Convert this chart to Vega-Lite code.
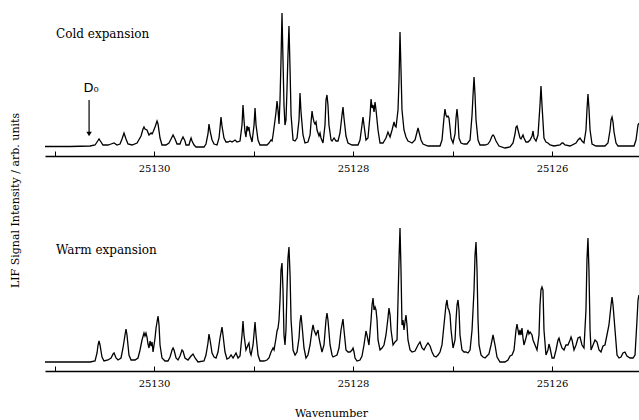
{
"$schema": "https://vega.github.io/schema/vega-lite/v6.json",
"padding": {"left": 9, "top": 10, "right": 0, "bottom": 0},
"bounds": "flush",
"spacing": 69,
"config": {
  "view": {"stroke": null},
  "axis": {"labelFont": "DejaVu Serif", "titleFont": "DejaVu Serif", "labelColor": "black", "titleColor": "black", "domainColor": "black", "tickColor": "black", "titleFontWeight": "normal", "grid": false}
},
"datasets": {
"cold": [{"w":25131.096,"i":9.5},{"w":25130.844,"i":9.5},{"w":25130.643,"i":10},{"w":25130.593,"i":11},{"w":25130.573,"i":14},{"w":25130.553,"i":17},{"w":25130.533,"i":14},{"w":25130.513,"i":11},{"w":25130.463,"i":11},{"w":25130.432,"i":12},{"w":25130.402,"i":13},{"w":25130.372,"i":11},{"w":25130.342,"i":12},{"w":25130.322,"i":17},{"w":25130.302,"i":23},{"w":25130.282,"i":17},{"w":25130.262,"i":12},{"w":25130.221,"i":11},{"w":25130.171,"i":13},{"w":25130.131,"i":20},{"w":25130.111,"i":27},{"w":25130.101,"i":29},{"w":25130.091,"i":27},{"w":25130.071,"i":26},{"w":25130.051,"i":21},{"w":25130.030,"i":23},{"w":25130.020,"i":22},{"w":25130.010,"i":24},{"w":25129.990,"i":29},{"w":25129.980,"i":32},{"w":25129.970,"i":35},{"w":25129.960,"i":32},{"w":25129.940,"i":18},{"w":25129.920,"i":11},{"w":25129.880,"i":11},{"w":25129.850,"i":13},{"w":25129.829,"i":17},{"w":25129.809,"i":21},{"w":25129.789,"i":17},{"w":25129.769,"i":12},{"w":25129.739,"i":12},{"w":25129.729,"i":15},{"w":25129.709,"i":19},{"w":25129.689,"i":15},{"w":25129.679,"i":11},{"w":25129.649,"i":11},{"w":25129.638,"i":15},{"w":25129.628,"i":18},{"w":25129.618,"i":15},{"w":25129.598,"i":11},{"w":25129.578,"i":9},{"w":25129.498,"i":9},{"w":25129.478,"i":12},{"w":25129.458,"i":22},{"w":25129.448,"i":32},{"w":25129.437,"i":25},{"w":25129.417,"i":16},{"w":25129.397,"i":12},{"w":25129.367,"i":11},{"w":25129.347,"i":18},{"w":25129.337,"i":28},{"w":25129.327,"i":39},{"w":25129.317,"i":30},{"w":25129.297,"i":18},{"w":25129.277,"i":14},{"w":25129.257,"i":14},{"w":25129.236,"i":15},{"w":25129.216,"i":14},{"w":25129.186,"i":16},{"w":25129.166,"i":14},{"w":25129.136,"i":15},{"w":25129.116,"i":31},{"w":25129.106,"i":51},{"w":25129.096,"i":36},{"w":25129.086,"i":24},{"w":25129.076,"i":19},{"w":25129.066,"i":30},{"w":25129.056,"i":26},{"w":25129.046,"i":29},{"w":25129.035,"i":21},{"w":25129.015,"i":14},{"w":25128.995,"i":31},{"w":25128.985,"i":48},{"w":25128.975,"i":31},{"w":25128.955,"i":16},{"w":25128.935,"i":11},{"w":25128.895,"i":11},{"w":25128.865,"i":11},{"w":25128.845,"i":13},{"w":25128.824,"i":16},{"w":25128.814,"i":15},{"w":25128.804,"i":21},{"w":25128.784,"i":36},{"w":25128.774,"i":44},{"w":25128.764,"i":55},{"w":25128.754,"i":46},{"w":25128.744,"i":32},{"w":25128.734,"i":56},{"w":25128.724,"i":96},{"w":25128.714,"i":143},{"w":25128.704,"i":96},{"w":25128.694,"i":51},{"w":25128.684,"i":31},{"w":25128.674,"i":36},{"w":25128.664,"i":66},{"w":25128.654,"i":101},{"w":25128.644,"i":130},{"w":25128.633,"i":86},{"w":25128.623,"i":41},{"w":25128.603,"i":16},{"w":25128.583,"i":15},{"w":25128.563,"i":18},{"w":25128.543,"i":36},{"w":25128.533,"i":63},{"w":25128.523,"i":44},{"w":25128.503,"i":21},{"w":25128.483,"i":13},{"w":25128.453,"i":14},{"w":25128.432,"i":21},{"w":25128.422,"i":34},{"w":25128.412,"i":45},{"w":25128.402,"i":38},{"w":25128.392,"i":34},{"w":25128.382,"i":32},{"w":25128.372,"i":34},{"w":25128.362,"i":26},{"w":25128.342,"i":20},{"w":25128.332,"i":23},{"w":25128.322,"i":18},{"w":25128.302,"i":13},{"w":25128.282,"i":31},{"w":25128.272,"i":56},{"w":25128.262,"i":61},{"w":25128.252,"i":51},{"w":25128.242,"i":31},{"w":25128.221,"i":16},{"w":25128.211,"i":15},{"w":25128.191,"i":18},{"w":25128.171,"i":15},{"w":25128.151,"i":15},{"w":25128.131,"i":23},{"w":25128.111,"i":41},{"w":25128.101,"i":49},{"w":25128.091,"i":38},{"w":25128.071,"i":20},{"w":25128.051,"i":13},{"w":25128.010,"i":11},{"w":25127.950,"i":11},{"w":25127.930,"i":16},{"w":25127.910,"i":31},{"w":25127.900,"i":39},{"w":25127.890,"i":31},{"w":25127.870,"i":16},{"w":25127.850,"i":18},{"w":25127.829,"i":41},{"w":25127.819,"i":57},{"w":25127.809,"i":48},{"w":25127.799,"i":51},{"w":25127.789,"i":44},{"w":25127.779,"i":54},{"w":25127.769,"i":46},{"w":25127.749,"i":26},{"w":25127.729,"i":13},{"w":25127.699,"i":13},{"w":25127.669,"i":18},{"w":25127.649,"i":24},{"w":25127.628,"i":19},{"w":25127.608,"i":26},{"w":25127.588,"i":34},{"w":25127.578,"i":30},{"w":25127.568,"i":29},{"w":25127.548,"i":46},{"w":25127.538,"i":76},{"w":25127.528,"i":124},{"w":25127.518,"i":86},{"w":25127.508,"i":46},{"w":25127.488,"i":26},{"w":25127.468,"i":19},{"w":25127.448,"i":15},{"w":25127.427,"i":14},{"w":25127.407,"i":13},{"w":25127.377,"i":16},{"w":25127.357,"i":24},{"w":25127.347,"i":28},{"w":25127.337,"i":24},{"w":25127.317,"i":16},{"w":25127.297,"i":12},{"w":25127.247,"i":10},{"w":25127.126,"i":10},{"w":25127.106,"i":16},{"w":25127.086,"i":38},{"w":25127.076,"i":47},{"w":25127.066,"i":41},{"w":25127.056,"i":39},{"w":25127.046,"i":40},{"w":25127.036,"i":38},{"w":25127.025,"i":28},{"w":25127.015,"i":18},{"w":25126.995,"i":13},{"w":25126.975,"i":22},{"w":25126.965,"i":38},{"w":25126.955,"i":47},{"w":25126.945,"i":36},{"w":25126.935,"i":18},{"w":25126.915,"i":13},{"w":25126.885,"i":12},{"w":25126.855,"i":12},{"w":25126.824,"i":16},{"w":25126.804,"i":41},{"w":25126.794,"i":61},{"w":25126.784,"i":79},{"w":25126.774,"i":61},{"w":25126.764,"i":36},{"w":25126.744,"i":16},{"w":25126.724,"i":11},{"w":25126.674,"i":11},{"w":25126.644,"i":12},{"w":25126.623,"i":15},{"w":25126.603,"i":20},{"w":25126.593,"i":21},{"w":25126.583,"i":20},{"w":25126.563,"i":15},{"w":25126.533,"i":10},{"w":25126.473,"i":8},{"w":25126.422,"i":9},{"w":25126.392,"i":13},{"w":25126.372,"i":22},{"w":25126.362,"i":29},{"w":25126.352,"i":30},{"w":25126.342,"i":26},{"w":25126.322,"i":18},{"w":25126.312,"i":17},{"w":25126.292,"i":21},{"w":25126.282,"i":18},{"w":25126.262,"i":14},{"w":25126.242,"i":14},{"w":25126.221,"i":16},{"w":25126.201,"i":20},{"w":25126.191,"i":25},{"w":25126.181,"i":18},{"w":25126.161,"i":15},{"w":25126.141,"i":21},{"w":25126.121,"i":51},{"w":25126.111,"i":70},{"w":25126.101,"i":51},{"w":25126.081,"i":18},{"w":25126.061,"i":14},{"w":25126.041,"i":13},{"w":25126.020,"i":11},{"w":25125.980,"i":10},{"w":25125.920,"i":11},{"w":25125.900,"i":13},{"w":25125.890,"i":13},{"w":25125.870,"i":11},{"w":25125.819,"i":10},{"w":25125.759,"i":13},{"w":25125.739,"i":16},{"w":25125.719,"i":18},{"w":25125.699,"i":15},{"w":25125.679,"i":13},{"w":25125.659,"i":26},{"w":25125.649,"i":46},{"w":25125.639,"i":62},{"w":25125.629,"i":48},{"w":25125.618,"i":26},{"w":25125.598,"i":12},{"w":25125.558,"i":10},{"w":25125.468,"i":10},{"w":25125.438,"i":13},{"w":25125.417,"i":26},{"w":25125.407,"i":36},{"w":25125.397,"i":39},{"w":25125.387,"i":34},{"w":25125.377,"i":24},{"w":25125.357,"i":13},{"w":25125.337,"i":10},{"w":25125.216,"i":10},{"w":25125.176,"i":10},{"w":25125.156,"i":16},{"w":25125.136,"i":31},{"w":25125.126,"i":33}],
"warm": [{"w":25131.096,"i":9},{"w":25130.643,"i":9},{"w":25130.593,"i":10},{"w":25130.573,"i":18},{"w":25130.563,"i":26},{"w":25130.553,"i":30},{"w":25130.543,"i":26},{"w":25130.523,"i":14},{"w":25130.503,"i":10},{"w":25130.463,"i":11},{"w":25130.432,"i":13},{"w":25130.412,"i":17},{"w":25130.402,"i":18},{"w":25130.382,"i":13},{"w":25130.362,"i":11},{"w":25130.332,"i":13},{"w":25130.312,"i":23},{"w":25130.292,"i":36},{"w":25130.282,"i":42},{"w":25130.272,"i":36},{"w":25130.252,"i":16},{"w":25130.231,"i":11},{"w":25130.191,"i":11},{"w":25130.161,"i":13},{"w":25130.141,"i":21},{"w":25130.121,"i":31},{"w":25130.101,"i":38},{"w":25130.091,"i":35},{"w":25130.081,"i":38},{"w":25130.071,"i":34},{"w":25130.061,"i":27},{"w":25130.051,"i":23},{"w":25130.040,"i":30},{"w":25130.030,"i":25},{"w":25130.020,"i":29},{"w":25130.010,"i":19},{"w":25129.990,"i":33},{"w":25129.980,"i":43},{"w":25129.970,"i":49},{"w":25129.960,"i":55},{"w":25129.950,"i":46},{"w":25129.940,"i":26},{"w":25129.920,"i":13},{"w":25129.890,"i":10},{"w":25129.860,"i":10},{"w":25129.839,"i":14},{"w":25129.819,"i":21},{"w":25129.809,"i":23},{"w":25129.799,"i":21},{"w":25129.779,"i":13},{"w":25129.759,"i":11},{"w":25129.739,"i":15},{"w":25129.719,"i":21},{"w":25129.709,"i":20},{"w":25129.689,"i":13},{"w":25129.659,"i":11},{"w":25129.628,"i":15},{"w":25129.608,"i":17},{"w":25129.588,"i":13},{"w":25129.558,"i":9},{"w":25129.498,"i":10},{"w":25129.478,"i":16},{"w":25129.458,"i":28},{"w":25129.448,"i":37},{"w":25129.437,"i":31},{"w":25129.417,"i":18},{"w":25129.397,"i":14},{"w":25129.377,"i":13},{"w":25129.357,"i":19},{"w":25129.337,"i":33},{"w":25129.317,"i":44},{"w":25129.307,"i":36},{"w":25129.287,"i":19},{"w":25129.267,"i":12},{"w":25129.247,"i":13},{"w":25129.226,"i":16},{"w":25129.206,"i":13},{"w":25129.176,"i":18},{"w":25129.156,"i":13},{"w":25129.136,"i":15},{"w":25129.116,"i":36},{"w":25129.106,"i":50},{"w":25129.096,"i":36},{"w":25129.076,"i":21},{"w":25129.056,"i":26},{"w":25129.046,"i":28},{"w":25129.035,"i":19},{"w":25129.025,"i":16},{"w":25129.005,"i":26},{"w":25128.985,"i":49},{"w":25128.975,"i":36},{"w":25128.955,"i":16},{"w":25128.935,"i":10},{"w":25128.895,"i":10},{"w":25128.865,"i":11},{"w":25128.845,"i":13},{"w":25128.824,"i":19},{"w":25128.804,"i":23},{"w":25128.794,"i":21},{"w":25128.774,"i":33},{"w":25128.764,"i":40},{"w":25128.754,"i":43},{"w":25128.744,"i":51},{"w":25128.734,"i":71},{"w":25128.724,"i":101},{"w":25128.714,"i":108},{"w":25128.704,"i":81},{"w":25128.694,"i":36},{"w":25128.684,"i":26},{"w":25128.674,"i":41},{"w":25128.664,"i":81},{"w":25128.654,"i":113},{"w":25128.644,"i":124},{"w":25128.633,"i":96},{"w":25128.623,"i":51},{"w":25128.603,"i":21},{"w":25128.583,"i":16},{"w":25128.563,"i":19},{"w":25128.543,"i":33},{"w":25128.533,"i":49},{"w":25128.523,"i":56},{"w":25128.513,"i":46},{"w":25128.493,"i":23},{"w":25128.473,"i":13},{"w":25128.453,"i":16},{"w":25128.432,"i":26},{"w":25128.412,"i":41},{"w":25128.402,"i":46},{"w":25128.392,"i":41},{"w":25128.372,"i":36},{"w":25128.352,"i":41},{"w":25128.342,"i":33},{"w":25128.332,"i":28},{"w":25128.312,"i":19},{"w":25128.292,"i":26},{"w":25128.272,"i":51},{"w":25128.262,"i":58},{"w":25128.252,"i":51},{"w":25128.231,"i":26},{"w":25128.211,"i":16},{"w":25128.201,"i":14},{"w":25128.181,"i":15},{"w":25128.161,"i":16},{"w":25128.141,"i":23},{"w":25128.121,"i":41},{"w":25128.101,"i":52},{"w":25128.091,"i":41},{"w":25128.071,"i":21},{"w":25128.051,"i":19},{"w":25128.030,"i":19},{"w":25128.010,"i":21},{"w":25128.000,"i":23},{"w":25127.990,"i":19},{"w":25127.980,"i":13},{"w":25127.960,"i":10},{"w":25127.930,"i":11},{"w":25127.910,"i":15},{"w":25127.890,"i":26},{"w":25127.870,"i":40},{"w":25127.860,"i":36},{"w":25127.840,"i":26},{"w":25127.819,"i":51},{"w":25127.809,"i":66},{"w":25127.799,"i":73},{"w":25127.789,"i":61},{"w":25127.779,"i":64},{"w":25127.769,"i":61},{"w":25127.759,"i":51},{"w":25127.749,"i":31},{"w":25127.729,"i":21},{"w":25127.709,"i":23},{"w":25127.689,"i":26},{"w":25127.669,"i":36},{"w":25127.649,"i":53},{"w":25127.639,"i":63},{"w":25127.628,"i":56},{"w":25127.618,"i":41},{"w":25127.598,"i":26},{"w":25127.578,"i":29},{"w":25127.558,"i":31},{"w":25127.548,"i":71},{"w":25127.538,"i":111},{"w":25127.528,"i":143},{"w":25127.518,"i":101},{"w":25127.508,"i":46},{"w":25127.498,"i":51},{"w":25127.488,"i":41},{"w":25127.478,"i":49},{"w":25127.468,"i":56},{"w":25127.458,"i":46},{"w":25127.448,"i":31},{"w":25127.427,"i":21},{"w":25127.407,"i":19},{"w":25127.377,"i":20},{"w":25127.347,"i":26},{"w":25127.327,"i":29},{"w":25127.307,"i":23},{"w":25127.287,"i":21},{"w":25127.267,"i":25},{"w":25127.247,"i":28},{"w":25127.226,"i":25},{"w":25127.206,"i":19},{"w":25127.186,"i":15},{"w":25127.166,"i":14},{"w":25127.146,"i":16},{"w":25127.126,"i":19},{"w":25127.106,"i":26},{"w":25127.086,"i":46},{"w":25127.066,"i":66},{"w":25127.056,"i":71},{"w":25127.046,"i":63},{"w":25127.036,"i":61},{"w":25127.025,"i":56},{"w":25127.015,"i":41},{"w":25126.995,"i":23},{"w":25126.975,"i":31},{"w":25126.965,"i":51},{"w":25126.955,"i":66},{"w":25126.945,"i":71},{"w":25126.935,"i":61},{"w":25126.925,"i":36},{"w":25126.905,"i":21},{"w":25126.885,"i":19},{"w":25126.865,"i":19},{"w":25126.845,"i":18},{"w":25126.824,"i":21},{"w":25126.804,"i":41},{"w":25126.784,"i":81},{"w":25126.774,"i":116},{"w":25126.764,"i":129},{"w":25126.754,"i":101},{"w":25126.744,"i":51},{"w":25126.734,"i":26},{"w":25126.714,"i":16},{"w":25126.694,"i":14},{"w":25126.674,"i":13},{"w":25126.654,"i":15},{"w":25126.634,"i":17},{"w":25126.613,"i":26},{"w":25126.593,"i":36},{"w":25126.573,"i":26},{"w":25126.553,"i":14},{"w":25126.523,"i":9},{"w":25126.473,"i":9},{"w":25126.443,"i":11},{"w":25126.422,"i":15},{"w":25126.402,"i":16},{"w":25126.382,"i":21},{"w":25126.362,"i":41},{"w":25126.352,"i":47},{"w":25126.342,"i":41},{"w":25126.332,"i":36},{"w":25126.322,"i":41},{"w":25126.312,"i":36},{"w":25126.302,"i":43},{"w":25126.292,"i":33},{"w":25126.282,"i":26},{"w":25126.262,"i":33},{"w":25126.242,"i":41},{"w":25126.232,"i":37},{"w":25126.221,"i":39},{"w":25126.201,"i":36},{"w":25126.191,"i":31},{"w":25126.171,"i":26},{"w":25126.151,"i":21},{"w":25126.131,"i":36},{"w":25126.121,"i":66},{"w":25126.111,"i":81},{"w":25126.101,"i":84},{"w":25126.091,"i":81},{"w":25126.081,"i":41},{"w":25126.061,"i":16},{"w":25126.041,"i":21},{"w":25126.031,"i":27},{"w":25126.020,"i":23},{"w":25126.000,"i":13},{"w":25125.980,"i":13},{"w":25125.960,"i":21},{"w":25125.940,"i":31},{"w":25125.930,"i":33},{"w":25125.920,"i":29},{"w":25125.900,"i":23},{"w":25125.880,"i":21},{"w":25125.860,"i":26},{"w":25125.840,"i":26},{"w":25125.819,"i":31},{"w":25125.809,"i":34},{"w":25125.799,"i":31},{"w":25125.779,"i":21},{"w":25125.759,"i":26},{"w":25125.739,"i":33},{"w":25125.719,"i":34},{"w":25125.699,"i":26},{"w":25125.679,"i":23},{"w":25125.659,"i":61},{"w":25125.649,"i":111},{"w":25125.639,"i":133},{"w":25125.629,"i":101},{"w":25125.618,"i":41},{"w":25125.608,"i":21},{"w":25125.588,"i":26},{"w":25125.568,"i":31},{"w":25125.548,"i":29},{"w":25125.528,"i":21},{"w":25125.508,"i":19},{"w":25125.488,"i":25},{"w":25125.468,"i":26},{"w":25125.448,"i":36},{"w":25125.428,"i":46},{"w":25125.407,"i":66},{"w":25125.397,"i":74},{"w":25125.387,"i":66},{"w":25125.367,"i":41},{"w":25125.347,"i":16},{"w":25125.327,"i":13},{"w":25125.307,"i":14},{"w":25125.287,"i":18},{"w":25125.267,"i":19},{"w":25125.247,"i":15},{"w":25125.216,"i":13},{"w":25125.186,"i":13},{"w":25125.166,"i":16},{"w":25125.146,"i":51},{"w":25125.136,"i":71},{"w":25125.126,"i":76}]
},
"vconcat": [
 {
  "width": 594, "height": 146,
  "layer": [
   {
    "data": {"name": "cold"},
    "mark": {"type": "line", "color": "black", "strokeWidth": 1.3},
    "encoding": {
     "x": {"field": "w", "type": "quantitative",
       "scale": {"domain": [25125.126, 25131.096], "reverse": true, "nice": false, "zero": false},
       "axis": {"title": null, "values": [25126, 25127, 25128, 25129, 25130, 25131], "labelExpr": "datum.value % 2 === 0 ? format(datum.value, 'd') : ''", "tickSize": -5, "labelPadding": 12, "labelFontSize": 10, "domainWidth": 1.6, "labelFlush": false}},
     "y": {"field": "i", "type": "quantitative",
       "scale": {"domain": [0, 146], "nice": false},
       "axis": {"title": "LIF Signal Intensity / arb. units", "domain": false, "ticks": false, "labels": false, "titleX": -30, "titleY": 190, "titleAngle": 270, "titleAlign": "center", "titleBaseline": "middle", "titleFontSize": 11}}
    }
   },
   {
    "data": {"values": [{"w": 25130.985, "i": 122, "t": "Cold expansion"}]},
    "mark": {"type": "text", "align": "left", "baseline": "middle", "font": "DejaVu Serif", "fontSize": 12, "color": "black"},
    "encoding": {"x": {"field": "w", "type": "quantitative"}, "y": {"field": "i", "type": "quantitative"}, "text": {"field": "t"}}
   },
   {
    "data": {"values": [{"w": 25130.633, "i": 68, "t": "D₀"}]},
    "mark": {"type": "text", "align": "center", "baseline": "middle", "font": "DejaVu Sans", "fontSize": 13, "color": "black"},
    "encoding": {"x": {"field": "w", "type": "quantitative"}, "y": {"field": "i", "type": "quantitative"}, "text": {"field": "t"}}
   },
   {
    "data": {"values": [{"w": 25130.653, "i": 56, "i2": 22}]},
    "mark": {"type": "rule", "color": "black", "strokeWidth": 1.2},
    "encoding": {"x": {"field": "w", "type": "quantitative"}, "y": {"field": "i", "type": "quantitative"}, "y2": {"field": "i2"}}
   },
   {
    "data": {"values": [{"w": 25130.653, "i": 22}]},
    "mark": {"type": "point", "shape": "triangle-down", "filled": true, "color": "black", "size": 30, "opacity": 1},
    "encoding": {"x": {"field": "w", "type": "quantitative"}, "y": {"field": "i", "type": "quantitative"}}
   }
  ]
 },
 {
  "width": 594, "height": 146,
  "layer": [
   {
    "data": {"name": "warm"},
    "mark": {"type": "line", "color": "black", "strokeWidth": 1.3},
    "encoding": {
     "x": {"field": "w", "type": "quantitative",
       "scale": {"domain": [25125.126, 25131.096], "reverse": true, "nice": false, "zero": false},
       "axis": {"title": "Wavenumber", "values": [25126, 25127, 25128, 25129, 25130, 25131], "labelExpr": "datum.value % 2 === 0 ? format(datum.value, 'd') : ''", "tickSize": -5, "labelPadding": 12, "labelFontSize": 10, "domainWidth": 1.6, "labelFlush": false, "titleX": 286, "titleY": 42, "titleAlign": "center", "titleBaseline": "middle", "titleFontSize": 11}},
     "y": {"field": "i", "type": "quantitative",
       "scale": {"domain": [0, 146], "nice": false}, "axis": null}
    }
   },
   {
    "data": {"values": [{"w": 25130.985, "i": 121, "t": "Warm expansion"}]},
    "mark": {"type": "text", "align": "left", "baseline": "middle", "font": "DejaVu Serif", "fontSize": 12, "color": "black"},
    "encoding": {"x": {"field": "w", "type": "quantitative"}, "y": {"field": "i", "type": "quantitative"}, "text": {"field": "t"}}
   }
  ]
 }
]
}
